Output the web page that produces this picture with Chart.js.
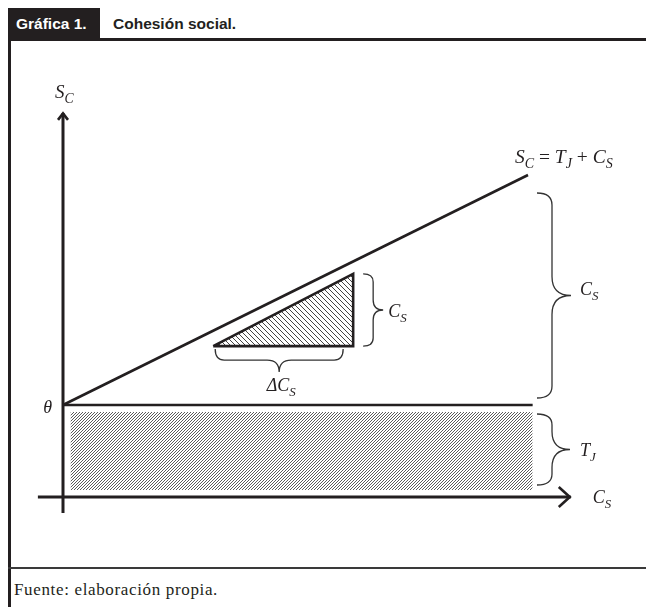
<!DOCTYPE html>
<html>
<head>
<meta charset="utf-8">
<script src="https://cdn.jsdelivr.net/npm/chart.js@4/dist/chart.umd.min.js"></script>
<style>
  html, body { margin: 0; padding: 0; background: #fff; }
  #page { position: relative; width: 646px; height: 607px; overflow: hidden; }
  #tag { position: absolute; left: 8px; top: 8px; width: 92px; height: 31px; background: #231f20;
         color: #fff; font: bold 15.5px "Liberation Sans", Arial, sans-serif; line-height: 31px; text-indent: 8px; }
  #title { position: absolute; left: 113px; top: 8px; height: 31px;
           font: bold 15.5px "Liberation Sans", Arial, sans-serif; line-height: 31px; color: #231f20; }
  #topRule { position: absolute; left: 8px; top: 38px; width: 638px; height: 2.5px; background: #231f20; }
  #leftRule { position: absolute; left: 8px; top: 38px; width: 2.5px; height: 569px; background: #231f20; }
  #footRule { position: absolute; left: 8px; top: 567px; width: 638px; height: 2px; background: #3a3a3a; }
  #source { position: absolute; left: 14px; top: 580px; font: 17px "Liberation Serif", "Times New Roman", serif;
            letter-spacing: 0.65px; color: #231f20; }
  #chart { position: absolute; left: 0; top: 0; }
</style>
</head>
<body>
<div id="page">
  <div id="tag">Gráfica 1.</div>
  <div id="title">Cohesión social.</div>
  <div id="topRule"></div>
  <div id="leftRule"></div>
  <div id="footRule"></div>
  <div id="source">Fuente: elaboración propia.</div>
  <canvas id="chart" width="646" height="607"></canvas>
</div>
<script>
// values in diagram units: C_S on x, S_C on y
var axisCs = [-5.4, 109.2];
var axisSc = [-3.5, 83.5];
var lineCs = [0, 100];
var lineSc = [20, 70];
var tjLevel = 20;
var tjCs = [0, 101];
var hatchCs = [1.6, 101];
var hatchSc = [1.5, 18.5];
var triCs = [32.3, 62.4, 62.4];
var triSc = [32.8, 32.8, 48.5];

var INK = "#231f20";
var SERIF = '"Liberation Serif", "Times New Roman", serif';

function pts(xs, ys) {
  return xs.map(function(x, i) { return { x: x, y: ys[i] }; });
}

function hatch(size, color, lw, dir) {
  var c = document.createElement("canvas");
  c.width = c.height = size;
  var g = c.getContext("2d");
  g.strokeStyle = color;
  g.lineWidth = lw;
  g.beginPath();
  if (dir === "/") {
    g.moveTo(0, size); g.lineTo(size, 0);
    g.moveTo(-1, 1); g.lineTo(1, -1);
    g.moveTo(size - 1, size + 1); g.lineTo(size + 1, size - 1);
  } else {
    g.moveTo(0, 0); g.lineTo(size, size);
    g.moveTo(-1, size - 1); g.lineTo(1, size + 1);
    g.moveTo(size - 1, -1); g.lineTo(size + 1, 1);
  }
  g.stroke();
  return g.createPattern(c, "repeat");
}

// curly brace from a to b; positive depth bulges to the right of the a->b direction (canvas coords)
function brace(ctx, ax, ay, bx, by, depth, body, r) {
  var L = Math.hypot(bx - ax, by - ay);
  var r2 = depth - body;
  ctx.save();
  ctx.translate(ax, ay);
  ctx.rotate(Math.atan2(by - ay, bx - ax));
  ctx.beginPath();
  ctx.moveTo(0, 0);
  ctx.quadraticCurveTo(0, body, r, body);
  ctx.lineTo(L / 2 - r2, body);
  ctx.quadraticCurveTo(L / 2, body, L / 2, depth);
  ctx.quadraticCurveTo(L / 2, body, L / 2 + r2, body);
  ctx.lineTo(L - r, body);
  ctx.quadraticCurveTo(L, body, L, 0);
  ctx.strokeStyle = "#333";
  ctx.lineWidth = 1.3;
  ctx.stroke();
  ctx.restore();
}

// parts: [text, kind]  kind: i = italic, s = italic subscript, r = roman
function mathText(ctx, x, y, parts, size, align) {
  function font(k) {
    var s = k === "s" ? size * 0.72 : size;
    return (k === "r" ? "" : "italic ") + s + "px " + SERIF;
  }
  var w = 0;
  parts.forEach(function(p) { ctx.font = font(p[1]); w += ctx.measureText(p[0]).width; });
  var cx = align === "center" ? x - w / 2 : align === "right" ? x - w : x;
  ctx.fillStyle = INK;
  ctx.textBaseline = "alphabetic";
  ctx.textAlign = "left";
  parts.forEach(function(p) {
    ctx.font = font(p[1]);
    ctx.fillText(p[0], cx, p[1] === "s" ? y + size * 0.25 : y);
    cx += ctx.measureText(p[0]).width;
  });
}

var annotations = {
  id: "annotations",
  afterDraw: function(chart) {
    var ctx = chart.ctx;
    var sx = chart.scales.x, sy = chart.scales.y;
    var px = function(v) { return sx.getPixelForValue(v); };
    var py = function(v) { return sy.getPixelForValue(v); };

    ctx.save();
    // arrow heads
    ctx.strokeStyle = INK;
    ctx.lineWidth = 2.6;
    ctx.lineCap = "butt";
    ctx.lineJoin = "miter";
    var tx = px(0), ty = py(axisSc[1]);
    ctx.beginPath();
    ctx.moveTo(tx - 5, ty + 7); ctx.lineTo(tx, ty + 0.5); ctx.lineTo(tx + 5, ty + 7);
    ctx.stroke();
    var ax = px(axisCs[1]), ay = py(0);
    ctx.beginPath();
    ctx.moveTo(ax - 12, ay - 10); ctx.lineTo(ax - 1, ay); ctx.lineTo(ax - 12, ay + 10);
    ctx.stroke();

    // braces
    var xr = px(lineCs[1]) + 9;
    brace(ctx, xr, py(tjLevel) - 7, xr, py(lineSc[1]) + 18, 34, 15, 12);
    brace(ctx, xr, py(0) - 12, xr, py(tjLevel) + 9, 33, 15, 11);
    var xt = px(triCs[2]) + 10;
    brace(ctx, xt, py(triSc[0]), xt, py(triSc[2]), 20, 10, 8);
    var yb = py(triSc[0]) + 3;
    brace(ctx, px(triCs[0]) + 2, yb, px(triCs[1]) - 10, yb, 23, 11, 9);
    ctx.restore();

    // labels
    mathText(ctx, px(0) - 8, py(axisSc[1]) - 15, [["S", "i"], ["C", "s"]], 19, "left");
    mathText(ctx, px(lineCs[1]) - 13, py(lineSc[1]) - 12,
      [["S", "i"], ["C", "s"], [" = ", "r"], ["T", "i"], ["J", "s"], [" + ", "r"], ["C", "i"], ["S", "s"]], 19.5, "left");
    mathText(ctx, px(0) - 11, py(tjLevel) + 8, [["θ", "i"]], 18, "right");
    mathText(ctx, xt + 25, (py(triSc[0]) + py(triSc[2])) / 2 + 7, [["C", "i"], ["S", "s"]], 18, "left");
    mathText(ctx, (px(triCs[0]) + px(triCs[1])) / 2 - 2, yb + 42, [["Δ", "i"], ["C", "i"], ["S", "s"]], 18, "center");
    mathText(ctx, xr + 43, (py(tjLevel) + py(lineSc[1])) / 2 + 5, [["C", "i"], ["S", "s"]], 18, "left");
    mathText(ctx, xr + 43, (py(0) + py(tjLevel)) / 2 + 5, [["T", "i"], ["J", "s"]], 18, "left");
    mathText(ctx, px(axisCs[1]) + 22, py(0) + 6, [["C", "i"], ["S", "s"]], 18, "left");
  }
};

var solid = { showLine: true, pointRadius: 0, borderColor: INK, borderWidth: 2.6, fill: false, clip: false };

new Chart(document.getElementById("chart"), {
  type: "scatter",
  data: {
    datasets: [
      Object.assign({}, solid, { data: pts(lineCs, lineSc) }),
      Object.assign({}, solid, { data: pts(tjCs, [tjLevel, tjLevel]) }),
      Object.assign({}, solid, { data: pts(axisCs, [0, 0]), borderWidth: 3 }),
      Object.assign({}, solid, { data: pts([0, 0], axisSc), borderWidth: 3 }),
      Object.assign({}, solid, { data: pts(triCs.concat([triCs[0]]), triSc.concat([triSc[0]])), borderJoin: "miter" }),
      Object.assign({}, solid, { data: pts([triCs[0], triCs[2]], [triSc[0], triSc[2]]), borderWidth: 0,
        fill: { value: triSc[0] }, backgroundColor: hatch(5, "#444", 1, "\\") }),
      Object.assign({}, solid, { data: pts(hatchCs, [hatchSc[1], hatchSc[1]]), borderWidth: 0,
        fill: { value: hatchSc[0] }, backgroundColor: hatch(3, "#5a5a5a", 1, "/") })
    ]
  },
  options: {
    responsive: false,
    animation: false,
    events: [],
    layout: { padding: { left: 16.5, right: 25, top: 83, bottom: 64 } },
    plugins: { legend: { display: false }, tooltip: { enabled: false } },
    scales: {
      x: { type: "linear", min: -10, max: 120, display: false },
      y: { type: "linear", min: -10, max: 90, display: false }
    }
  },
  plugins: [annotations]
});
</script>
</body>
</html>
